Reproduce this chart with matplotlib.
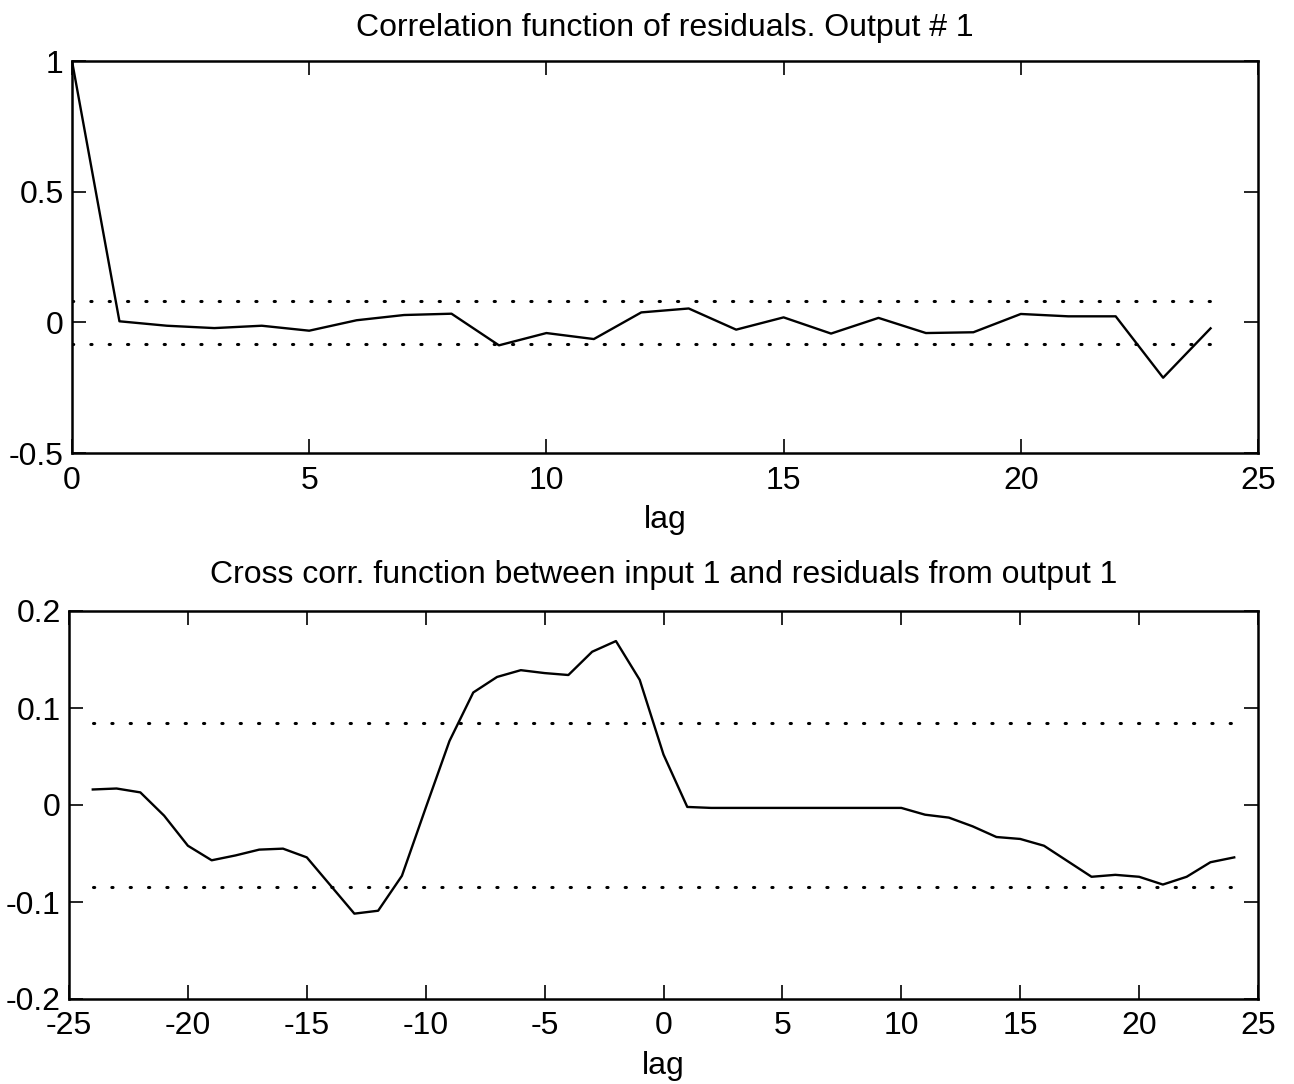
import numpy as np
import matplotlib
matplotlib.use("Agg")
import matplotlib.pyplot as plt

plt.rcParams['font.family'] = ['Liberation Sans', 'DejaVu Sans']
plt.rcParams['axes.unicode_minus'] = False

# auto-correlation of residuals, lags 0..24
acfLags = list(range(0, 25))
acfValues = [1.0, 0.004, -0.013, -0.022, -0.013, -0.032, 0.008, 0.028, 0.033,
             -0.088, -0.041, -0.064, 0.038, 0.053, -0.028, 0.019, -0.043, 0.017,
             -0.041, -0.038, 0.032, 0.023, 0.023, -0.212, -0.023]
acfConf = 0.082

# cross-correlation input 1 / residuals, lags -24..24
ccfLags = list(range(-24, 25))
ccfValues = [0.016, 0.017, 0.013, -0.011, -0.042, -0.057, -0.052, -0.046, -0.045,
             -0.054, -0.083, -0.112, -0.109, -0.073, -0.003, 0.066, 0.116, 0.132,
             0.139, 0.136, 0.134, 0.158, 0.169, 0.129, 0.052,
             -0.002, -0.003, -0.003, -0.003, -0.003, -0.003, -0.003, -0.003, -0.003,
             -0.003, -0.010, -0.013, -0.022, -0.033, -0.035, -0.042, -0.058, -0.074,
             -0.072, -0.074, -0.082, -0.074, -0.059, -0.054]
ccfConf = 0.085

fs = 23

fig = plt.figure(figsize=(12.94, 10.84), dpi=100)
W, H = 1294, 1084
ax1 = fig.add_axes([72 / W, 1 - 453 / H, (1258 - 72) / W, (453 - 61) / H])
ax2 = fig.add_axes([69 / W, 1 - 999 / H, (1258 - 69) / W, (999 - 611) / H])


def styleAxes(ax):
    ax.tick_params(direction='in', length=10, width=1.2, top=True, right=True,
                   labelsize=fs)
    ax.tick_params(axis='x', pad=9)
    ax.tick_params(axis='y', pad=6)
    for s in ax.spines.values():
        s.set_linewidth(1.8)


def confLines(ax, lags, conf):
    for c in (conf, -conf):
        ax.plot([lags[0], lags[-1]], [c, c], color='black', lw=2.2,
                dashes=(0.4, 5.6), dash_capstyle='round')


ax1.plot(acfLags, acfValues, color='black', lw=1.7)
confLines(ax1, acfLags, acfConf)
ax1.set_xlim(0, 25)
ax1.set_ylim(-0.5, 1)
ax1.set_xticks([0, 5, 10, 15, 20, 25])
ax1.set_yticks([-0.5, 0, 0.5, 1])
ax1.set_yticklabels(['-0.5', '0', '0.5', '1'])
ax1.set_xlabel('lag', fontsize=fs, labelpad=7)
ax1.set_title('Correlation function of residuals. Output # 1', fontsize=fs, pad=18)
styleAxes(ax1)

ax2.plot(ccfLags, ccfValues, color='black', lw=1.7)
confLines(ax2, ccfLags, ccfConf)
ax2.set_xlim(-25, 25)
ax2.set_ylim(-0.2, 0.2)
ax2.set_xticks([-25, -20, -15, -10, -5, 0, 5, 10, 15, 20, 25])
ax2.set_yticks([-0.2, -0.1, 0, 0.1, 0.2])
ax2.set_yticklabels(['-0.2', '-0.1', '0', '0.1', '0.2'])
ax2.set_xlabel('lag', fontsize=fs, labelpad=7)
ax2.set_title('Cross corr. function between input 1 and residuals from output 1',
              fontsize=fs, pad=20)
styleAxes(ax2)

fig.savefig('out.png', dpi=100)
